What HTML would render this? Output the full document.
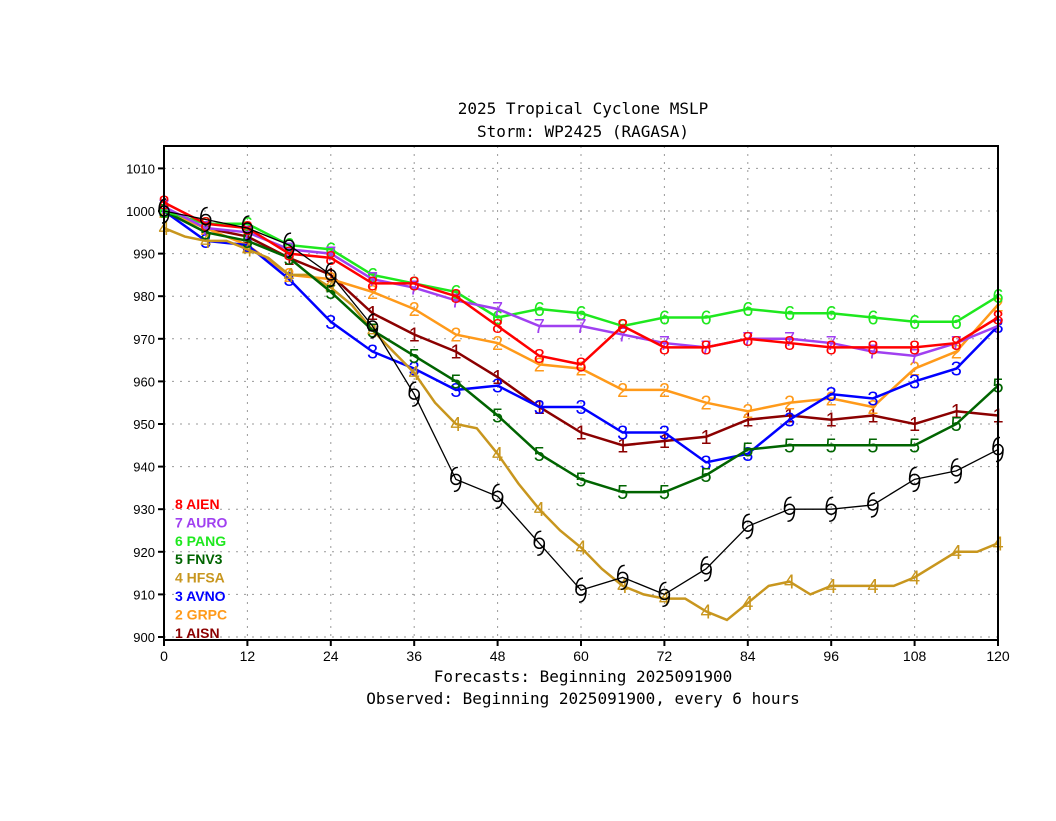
<!DOCTYPE html>
<html><head><meta charset="utf-8"><style>
body{margin:0;background:#fff;}
svg text{font-family:"DejaVu Sans Mono","Liberation Mono",monospace;}
</style></head><body>
<svg id="c" width="1056" height="816" xmlns="http://www.w3.org/2000/svg">
<rect width="1056" height="816" fill="#fff"/>
<text x="583" y="114" text-anchor="middle" font-size="16">2025 Tropical Cyclone MSLP</text>
<text x="583" y="137" text-anchor="middle" font-size="16">Storm: WP2425 (RAGASA)</text>
<text x="583" y="682" text-anchor="middle" font-size="16">Forecasts: Beginning 2025091900</text>
<text x="583" y="704" text-anchor="middle" font-size="16">Observed: Beginning 2025091900, every 6 hours</text>
<g id="grid"></g><g id="series"></g><g id="legend"></g>
<rect x="164" y="146" width="834" height="494" fill="none" stroke="#000" stroke-width="2"/>
</svg>
<script>
const hours=[0,6,12,18,24,30,36,42,48,54,60,66,72,78,84,90,96,102,108,114,120];
const xTicks=[0,12,24,36,48,60,72,84,96,108,120];
const yTicks=[900,910,920,930,940,950,960,970,980,990,1000,1010];
const aien=[1002,997,996,990,989,983,983,980,973,966,964,973,968,968,970,969,968,968,968,969,975];
const auro=[1001,996,995,991,990,984,982,979,977,973,973,971,969,968,970,970,969,967,966,969,973];
const pang=[1000,997,997,992,991,985,983,981,975,977,976,973,975,975,977,976,976,975,974,974,980];
const fnv3=[1000,995,993,989,981,972,966,960,952,943,937,934,934,938,944,945,945,945,945,950,959];
const hfsaHours=[0,3,6,9,12,15,18,21,24,27,30,33,36,39,42,45,48,51,54,57,60,63,66,69,72,75,78,81,84,87,90,93,96,99,102,105,108,111,114,117,120];
const hfsa=[996,994,993,993,991,989,985,985,982,978,972,967,962,955,950,949,943,936,930,925,921,916,912,910,909,909,906,904,908,912,913,910,912,912,912,912,914,917,920,920,922];
const avno=[1000,993,992,984,974,967,963,958,959,954,954,948,948,941,943,951,957,956,960,963,973];
const grpc=[1000,996,992,985,984,981,977,971,969,964,963,958,958,955,953,955,956,954,963,967,978];
const aisn=[1000,996,994,989,985,976,971,967,961,954,948,945,946,947,951,952,951,952,950,953,952];
const best=[1000,998,996,992,985,973,957,937,933,922,911,914,910,916,926,930,930,931,937,939,944];
const X=h=>164+h*(834/120);
const Y=v=>211+(1000-v)*4.26;
const NS="http://www.w3.org/2000/svg";
function mk(t,a,p){const e=document.createElementNS(NS,t);for(const k in a)e.setAttribute(k,a[k]);p.appendChild(e);return e;}
const grid=document.getElementById('grid');
yTicks.forEach(v=>{
 const l=mk('line',{x1:164,x2:998,y1:Y(v),y2:Y(v),stroke:'#999','stroke-dasharray':'2,6'},grid);
 
 
 mk('line',{x1:158,x2:164,y1:Y(v),y2:Y(v),stroke:'#000','stroke-width':2},grid);
 const t=mk('text',{x:155,y:Y(v)+5,'text-anchor':'end','font-size':13,style:'font-family:"Liberation Sans",sans-serif'},grid);t.textContent=v;
 
 
});
xTicks.forEach(h=>{
 const l=mk('line',{x1:X(h),x2:X(h),y1:146,y2:640,stroke:'#999','stroke-dasharray':'2,6'},grid);
 
 
 mk('line',{x1:X(h),x2:X(h),y1:640,y2:646,stroke:'#000','stroke-width':2},grid);
 const t=mk('text',{x:X(h),y:661,'text-anchor':'middle','font-size':14,style:'font-family:"Liberation Sans",sans-serif'},grid);t.textContent=h;
 
 
});
const S=document.getElementById('series');
const defs=[
 ['aisn',hours,aisn,'#8b0000','1'],['grpc',hours,grpc,'#ff9a1a','2'],['avno',hours,avno,'#0000ff','3'],
 ['hfsa',hfsaHours,hfsa,'#c8961e','4'],['fnv3',hours,fnv3,'#006400','5'],['pang',hours,pang,'#1ee81e','6'],
 ['auro',hours,auro,'#a040f0','7'],['aien',hours,aien,'#ff0000','8']];
defs.forEach(([n,hs,vs,c,m])=>{
 const g=mk('g',{},S);
 
 
 mk('polyline',{points:hs.map((h,i)=>X(h)+','+Y(vs[i])).join(' '),fill:'none',stroke:c,'stroke-width':2.5},g);
 hs.forEach((h,i)=>{if(h%6)return;
  const t=mk('text',{x:X(h),y:Y(vs[i])+7,'text-anchor':'middle','font-size':20,fill:c,style:'font-family:"Liberation Sans",sans-serif'},g);
  t.textContent=m;
  
  
 });
});
const bg=mk('g',{},S);


mk('polyline',{points:hours.map((h,i)=>X(h)+','+Y(best[i])).join(' '),fill:'none',stroke:'#000','stroke-width':1.3},bg);
hours.forEach((h,i)=>{const x=X(h),y=Y(best[i]);
 const s=mk('g',{fill:'none',stroke:'#000','stroke-width':1.5},bg);
 
 
 mk('circle',{cx:x,cy:y,r:5},s);
 mk('path',{d:`M${x-5},${y} Q${x-5},${y-12} ${x+2},${y-12}`},s);
 mk('path',{d:`M${x+5},${y} Q${x+5},${y+12} ${x-2},${y+12}`},s);
});
const L=document.getElementById('legend');
const leg=[['8','AIEN','#ff0000'],['7','AURO','#a040f0'],['6','PANG','#1ee81e'],['5','FNV3','#006400'],['4','HFSA','#c8961e'],['3','AVNO','#0000ff'],['2','GRPC','#ff9a1a'],['1','AISN','#8b0000']];
leg.forEach(([m,n,c],i)=>{
 const t=mk('text',{x:175,y:509+i*18.4,'font-size':14,fill:c,'font-weight':'bold',style:'font-family:"Liberation Sans",sans-serif'},L);
 t.textContent=m+'  '+n;
 
 
});
</script>
</body></html>
